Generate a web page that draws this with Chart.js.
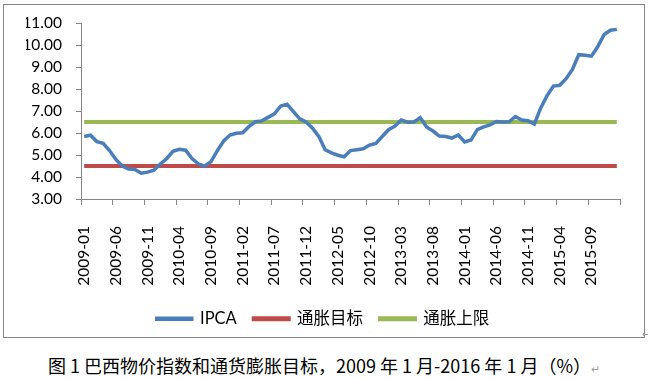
<!DOCTYPE html>
<html>
<head>
<meta charset="utf-8">
<script src="https://cdn.jsdelivr.net/npm/chart.js@4.4.1/dist/chart.umd.min.js"></script>
<style>
  html, body { margin: 0; padding: 0; background: #fff; }
  body { width: 648px; height: 378px; position: relative; overflow: hidden; }
  #frame { position: absolute; left: 3px; top: 4px; width: 640px; height: 332px; border: 1px solid #868686; }
  #caption { position: absolute; left: 0; top: 352px; width: 648px; text-align: center;
    font: 18px "Noto Sans CJK SC", sans-serif; color: #000; white-space: nowrap; }
  .mark { color: #9a9a9a; font-size: 11px; }
  #frameMark { position: absolute; left: 642px; top: 328px; }
</style>
</head>
<body>
<div id="frame"><canvas id="ipcaChart"></canvas></div>
<span id="frameMark" class="mark">↵</span>
<div id="caption">图 1 巴西物价指数和通货膨胀目标，2009 年 1 月-2016 年 1 月（%）<span class="mark">↵</span></div>
<script>
// monthly categories 2009-01 .. 2016-01
const months = [];
for (let y = 2009; y <= 2016; y++) {
  for (let m = 1; m <= 12; m++) {
    if (y === 2016 && m > 1) break;
    months.push(y + '-' + String(m).padStart(2, '0'));
  }
}

// IPCA, 12-month accumulated (%)
const ipca = [
  5.84, 5.90, 5.61, 5.53, 5.20, 4.80, 4.50, 4.36, 4.34, 4.17, 4.22, 4.31, // 2009
  4.59, 4.83, 5.17, 5.26, 5.22, 4.84, 4.60, 4.49, 4.70, 5.20, 5.64, 5.91, // 2010
  5.99, 6.01, 6.30, 6.51, 6.55, 6.71, 6.87, 7.23, 7.31, 6.97, 6.64, 6.50, // 2011
  6.22, 5.85, 5.24, 5.10, 4.99, 4.92, 5.20, 5.24, 5.28, 5.45, 5.53, 5.84, // 2012
  6.15, 6.31, 6.59, 6.49, 6.50, 6.70, 6.27, 6.09, 5.86, 5.84, 5.77, 5.91, // 2013
  5.59, 5.68, 6.15, 6.28, 6.37, 6.52, 6.50, 6.51, 6.75, 6.59, 6.56, 6.41, // 2014
  7.14, 7.70, 8.13, 8.17, 8.47, 8.89, 9.56, 9.53, 9.49, 9.93, 10.48, 10.67, // 2015
  10.71 // 2016
];

const inflationTarget = 4.5;
const inflationCeiling = 6.5;

const yMin = 3;
const yMax = 11;
const labelEvery = 5;

const axisGray = '#868686';
const tickFont = { family: 'Lato, "DejaVu Sans", sans-serif', size: 15.5 };

/* global Chart */
new Chart(document.getElementById('ipcaChart'), {
  type: 'line',
  data: {
    labels: months,
    datasets: [
      {
        label: 'IPCA',
        data: ipca,
        borderColor: '#4A7EBB',
        backgroundColor: '#4A7EBB',
        borderWidth: 3.5,
        pointRadius: 0,
      },
      {
        label: '通胀目标',
        data: months.map(() => inflationTarget),
        borderColor: '#BE4B48',
        backgroundColor: '#BE4B48',
        borderWidth: 4,
        pointRadius: 0,
      },
      {
        label: '通胀上限',
        data: months.map(() => inflationCeiling),
        borderColor: '#98B954',
        backgroundColor: '#98B954',
        borderWidth: 4,
        pointRadius: 0,
      },
    ],
  },
  options: {
    responsive: true,
    maintainAspectRatio: false,
    animation: false,
    layout: { padding: { top: 18, right: 24, bottom: 0, left: 22 } },
    plugins: {
      tooltip: { enabled: false },
      legend: {
        position: 'bottom',
        labels: {
          boxWidth: 35,
          boxHeight: 1,
          padding: 17,
          color: '#000',
          font: { family: 'Lato, "Noto Sans CJK SC", sans-serif', size: 16.5 },
        },
      },
    },
    scales: {
      x: {
        offset: true,
        grid: {
          offset: true,
          drawOnChartArea: false,
          tickLength: 6,
          tickColor: (ctx) =>
            ctx.type !== 'tick' || ctx.index % labelEvery === 0 ? axisGray : 'rgba(0,0,0,0)',
        },
        border: { color: axisGray },
        ticks: {
          autoSkip: false,
          minRotation: 90,
          maxRotation: 90,
          padding: 21,
          color: '#000',
          font: tickFont,
          callback: (v, i) => (i % labelEvery === 0 ? months[i] : ''),
        },
        afterFit: (scale) => {
          scale.height = 94.5;
          scale.paddingLeft = 0;
          scale.paddingRight = 0;
        },
      },
      y: {
        min: yMin,
        max: yMax,
        grid: { drawOnChartArea: false, tickLength: 5, tickColor: axisGray },
        border: { color: axisGray },
        ticks: {
          autoSkip: false,
          stepSize: 1,
          padding: 14,
          color: '#000',
          font: tickFont,
          callback: (v) => v.toFixed(2),
        },
        afterFit: (scale) => {
          scale.width = 55;
          scale.paddingTop = 0;
          scale.paddingBottom = 0;
        },
      },
    },
  },
});
</script>
</body>
</html>
